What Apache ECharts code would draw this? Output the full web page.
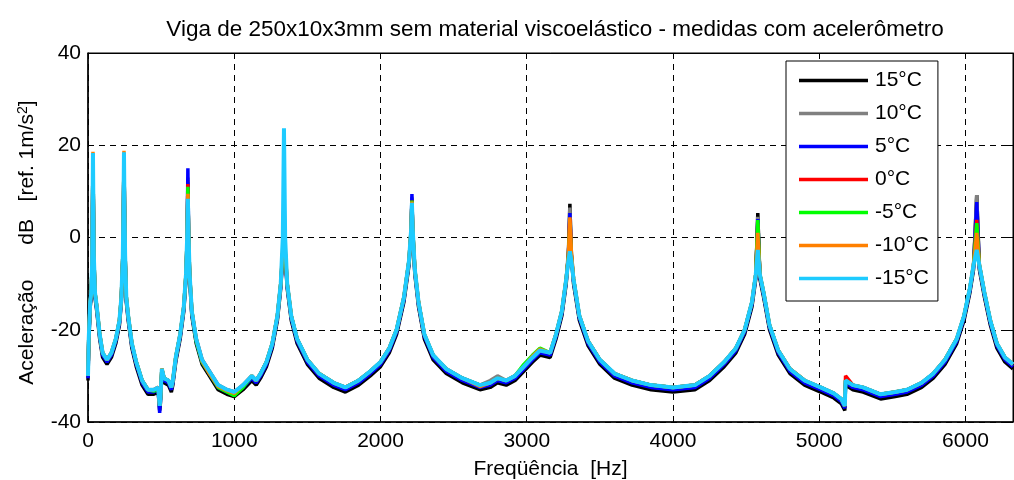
<!DOCTYPE html>
<html><head><meta charset="utf-8">
<script src="https://cdn.jsdelivr.net/npm/echarts@6/dist/echarts.min.js"></script>
<style>html,body{margin:0;padding:0;background:#fff}#c{width:1014px;height:480px}</style>
</head><body><div id="c"></div>
<script>
const freqHz = [0,5,15,22,28,32,34,36,40,48,60,
 80,100,130,160,190,215,228,238,243,246,249,254,262,
 275,300,330,370,410,450,480,490,495,505,520,550,570,580,600,
 630,655,670,678,683,688,695,710,
 740,780,830,890,950,1000,1060,1120,1150,1180,1220,1260,1295,1318,
 1332,1340,1348,1362,1390,1430,
 1500,1580,1680,1760,1850,1930,2000,2060,2110,2160,2195,
 2210,2215,2220,2235,2260,2300,
 2360,2450,2560,2680,2750,2800,2860,2920,2980,3040,3090,3160,3200,3240,3270,3285,
 3295,3305,3320,3360,3420,
 3500,3600,3720,3850,4000,4150,4250,4350,4430,4490,4540,4566,
 4580,4594,4620,4660,4720,
 4800,4900,5010,5100,5150,5175,5180,5230,5300,5420,5520,5600,5700,5780,5860,5940,5990,6030,6055,
 6077,6095,6130,6170,6215,6270,6325];

const db15 = [-31,-23,-15,-13,-7,9,17.8,9,-5,-13,-16,
 -22,-26,-27.5,-26,-23,-19,-14,-5,7,17.5,7,-5,-14,
 -18,-24,-28,-32,-34,-34,-33.5,-37.5,-36,-29.5,-31.5,-32,-33.5,-32,-27,
 -22,-16,-9,-1,12,-1,-9,-17,
 -23,-27.5,-30,-33,-34,-34.5,-33,-31,-32,-30.5,-28,-24,-18,-11,
 -4,3,-4,-11,-18,-23,
 -27.5,-30.5,-32.5,-33.5,-32,-30,-28,-25,-21,-14,-6,
 1,8.5,1,-8,-15,-22,
 -26.5,-29.5,-31.5,-33,-32.5,-31.5,-32,-31,-29,-27,-25.5,-26,-22,-17,-10,-4,
 7.3,-4,-10,-18,-23.5,
 -27.5,-30.5,-32,-33,-33.5,-33,-31,-28,-25,-21,-15,-9,
 5.3,-9,-13,-20,-25.5,
 -29.5,-32,-33.5,-34.8,-36,-37.5,-32,-33,-33.5,-35,-34.5,-34,-32.5,-30.5,-27.5,-23,-18,-12,-7,
 9.2,-7,-13,-19,-24,-27,-28.5];

const db10 = [-30,-22,-14,-12,-6,10,17.9,10,-4,-12,-15,
 -21,-25,-26.5,-25,-22,-18,-13,-4,8,17.8,8,-4,-13,
 -17,-23,-27,-31,-33,-33,-32.5,-36.5,-35,-28.5,-30.5,-31,-32.5,-31,-26,
 -21,-15,-8,0,13,0,-8,-16,
 -22,-26.5,-29,-32,-33,-33.5,-32,-30,-31,-29.5,-27,-23,-17,-10,
 -3,4.2,-3,-10,-17,-22,
 -26.5,-29.5,-31.5,-32.5,-31,-29,-27,-24,-20,-13,-5,
 2,8.8,2,-7,-14,-21,
 -25.5,-28.5,-30.5,-32,-31,-30,-31,-30,-28,-26,-24.5,-25,-21,-16,-9,-3,
 6.5,-3,-9,-17,-22.5,
 -26.5,-29.5,-31,-32,-32.5,-32,-30,-27,-24,-20,-14,-8,
 4.5,-8,-12,-19,-24.5,
 -28.5,-31,-32.5,-33.8,-35,-36.5,-31,-32,-32.5,-34,-33.5,-33,-31.5,-29.5,-26.5,-22,-17,-11,-6,
 9.2,-6,-12,-18,-23,-26,-27.5];

const db5 = [-30.5,-22.5,-14.5,-12.5,-6.5,9.5,18,9.5,-4.5,-12.5,-15.5,
 -21.5,-25.5,-27,-25.5,-22.5,-18.5,-13.5,-4.5,7.5,18,7.5,-4.5,-13.5,
 -17.5,-23.5,-27.5,-31.5,-33.5,-33.5,-33,-38,-35.5,-29,-31,-31.5,-33,-31.5,-26.5,
 -21.5,-15.5,-8.5,-0.5,15,-0.5,-8.5,-16.5,
 -22.5,-27,-29.5,-32.5,-33.5,-34,-32.5,-30.5,-31.5,-30,-27.5,-23.5,-17.5,-10.5,
 -3.5,2.5,-3.5,-10.5,-17.5,-22.5,
 -27,-30,-32,-33,-31.5,-29.5,-27.5,-24.5,-20.5,-13.5,-5.5,
 1.5,9.4,1.5,-7.5,-14.5,-21.5,
 -26,-29,-31,-32.5,-32,-31,-31.5,-30.5,-28.5,-26.5,-25,-25.5,-21.5,-16.5,-9.5,-4,
 5.3,-4,-9.5,-17.5,-23,
 -27,-30,-31.5,-32.5,-33,-32.5,-30.5,-27.5,-24.5,-20.5,-14.5,-8.5,
 4,-8.5,-12.5,-19.5,-25,
 -29,-31.5,-33,-34.3,-35.5,-37,-31.5,-32.5,-33,-34.5,-34,-33.5,-32,-30,-27,-22.5,-17.5,-11.5,-6.5,
 7.7,-6.5,-12.5,-18.5,-23.5,-26.5,-28];

const db0 = [-30,-22,-14,-12,-6,10,18,10,-4,-12,-15,
 -21,-25,-26.5,-25,-22,-18,-13,-4,8,18,8,-4,-13,
 -17,-23,-27,-31,-33,-33,-32.5,-36.5,-35,-28.5,-30.5,-31,-32.5,-31,-26,
 -21,-15,-8,0,11.6,0,-8,-16,
 -22,-26.5,-29,-32,-33,-33.5,-32,-30,-31,-29.5,-27,-23,-17,-10,
 -3,5,-3,-10,-17,-22,
 -26.5,-29.5,-31.5,-32.5,-31,-29,-27,-24,-20,-13,-5,
 2,8,2,-7,-14,-21,
 -25.5,-28.5,-30.5,-32,-31.5,-30.5,-31,-30,-28,-26,-24.5,-25,-21,-16,-9,-4,
 4,-4,-9,-17,-22.5,
 -26.5,-29.5,-31,-32,-32.5,-32,-30,-27,-24,-20,-14,-8,
 3,-8,-12,-19,-24.5,
 -28.5,-31,-32.5,-33.8,-35,-36.5,-30,-32,-32.5,-34,-33.5,-33,-31.5,-29.5,-26.5,-22,-17,-11,-6,
 3.8,-6,-12,-18,-23,-26,-27.5];

const dbM5 = [-30,-22,-14,-12,-6,10,18.1,10,-4,-12,-15,
 -21,-25,-26.5,-25,-22,-18,-13,-4,8,18.2,8,-4,-13,
 -17,-23,-27,-31,-33,-33.3,-32.8,-36.5,-35,-28.5,-30.5,-31,-32.5,-31,-26,
 -21,-15,-8,0,11,0,-8,-16,
 -22.5,-27,-29.5,-32.5,-33.5,-34.3,-32.5,-30,-31,-29.5,-27,-23,-17,-10,
 -3,7,-3,-10,-17,-22,
 -26.5,-29.5,-31.5,-32.5,-31,-29,-27,-24,-20,-13,-5,
 2,8,2,-7,-14,-21,
 -25.5,-28.5,-30.5,-32,-31.5,-30.5,-31,-30,-27.5,-25.5,-24,-25,-21,-16,-9,-4,
 3,-4,-9,-17,-22.5,
 -26.5,-29.5,-31,-32,-32.5,-32,-30,-27,-24,-20,-14,-8,
 3.8,-8,-12,-19,-24.5,
 -28.5,-31,-32.5,-33.8,-35,-36.5,-31,-32,-32.5,-34,-33.5,-33,-31.5,-29.5,-26.5,-22,-17,-11,-6,
 3.1,-6,-12,-18,-23,-26,-27.5];

const dbM10 = [-30,-22,-14,-12,-6,10,18.6,10,-4,-12,-15,
 -21,-25,-26.5,-25,-22,-18,-13,-4,8,18.8,8,-4,-13,
 -17,-23,-27,-31,-33,-33,-32.5,-36.5,-35,-28.5,-30.5,-31,-32.5,-31,-26,
 -21,-15,-8,0,9.5,0,-8,-16,
 -22,-26.8,-29.5,-32.3,-33.2,-33.8,-32,-30,-31,-29.5,-27,-23,-17,-10,
 -2,8.8,-2,-10,-17,-22,
 -26.5,-29.5,-31.5,-32.5,-31,-29,-27,-24,-20,-13,-5,
 2,7.8,2,-7,-14,-21,
 -25.5,-28.5,-30.5,-32.3,-31.5,-30.5,-31,-30,-28,-25.7,-24.2,-25,-21,-16,-9,-4,
 4.4,-3,-9,-17,-22.5,
 -26.5,-29.5,-31,-32,-32.5,-32,-30,-27,-24,-20,-14,-8,
 1,-8,-12,-19,-24.5,
 -28.5,-31,-32.5,-33.8,-35,-36.5,-31,-32,-32.5,-34,-33.5,-33,-31.5,-29.5,-26.5,-22,-17,-11,-6,
 1,-6,-12,-18,-23,-26,-27.5];

const dbM15 = [-30,-22,-14,-12,-6,10,18.3,10,-4,-12,-15,
 -21,-25,-26.5,-25,-22,-18,-13,-4,8,18.5,8,-4,-13,
 -17,-23,-27,-31,-33,-33,-32.5,-36.5,-35,-28.5,-30.5,-31,-32.5,-31,-26,
 -21,-15,-8,0,8.4,0,-8,-16,
 -22,-26.5,-29,-32,-33,-33.5,-32,-30,-31,-29.5,-27,-23,-17,-10,
 0,23.7,0,-10,-17,-22,
 -26.5,-29.5,-31.5,-32.5,-31,-29,-27,-24,-20,-13,-5,
 2,7.5,2,-7,-14,-21,
 -25.5,-28.5,-30.5,-32,-31.5,-30.5,-31,-30,-28,-26,-24.5,-25,-21,-16,-9,-5,
 -3,-5,-9,-17,-22.5,
 -26.5,-29.5,-31,-32,-32.5,-32,-30,-27,-24,-20,-14,-8,
 -2.7,-8,-12,-19,-24.5,
 -28.5,-31,-32.5,-33.8,-35,-36.5,-31,-32,-32.5,-34,-33.5,-33,-31.5,-29.5,-26.5,-22,-17,-11,-6,
 -2.7,-6,-12,-18,-23,-26,-27.5];

const seriesNames = ['15°C','10°C','5°C','0°C','-5°C','-10°C','-15°C'];
const seriesValues = [db15, db10, db5, db0, dbM5, dbM10, dbM15];
const seriesColors = ['#000000','#808080','#0000ff','#ff0000','#00ff00','#ff8000','#1ecbff'];
const seriesWidths = [3.5, 3.5, 3.5, 3.5, 3.5, 3.5, 4];

const FONT = 'Liberation Sans, Arial, Helvetica, sans-serif';
const chart = echarts.init(document.getElementById('c'), null, {renderer: 'canvas'});

const tickStyle = {show: true, inside: true, length: 6, lineStyle: {color: '#000'}};
const xTickLabel = v => (v % 1000 === 0 ? String(v) : '');
const yTickLabel = v => String(v);

chart.setOption({
  animation: false,
  backgroundColor: '#fff',
  title: {
    text: 'Viga de 250x10x3mm sem material viscoelástico - medidas com acelerômetro',
    left: 555, textAlign: 'center', top: 18, padding: 0,
    textStyle: {fontFamily: FONT, fontSize: 22.5, fontWeight: 'normal', color: '#000'}
  },
  grid: {left: 88, right: 1, top: 53, bottom: 58, show: true, borderColor: '#000', borderWidth: 1,
    containLabel: false, outerBoundsMode: 'none'},
  legend: {
    orient: 'vertical', left: 786, top: 61,
    padding: [9, 9, 12, 13], itemGap: 12, itemWidth: 69, itemHeight: 3.5,
    icon: 'rect',
    backgroundColor: '#fff', borderColor: '#000', borderWidth: 1, borderRadius: 0,
    data: seriesNames,
    textStyle: {fontFamily: FONT, fontSize: 21, color: '#000', padding: [0,0,0,2]}
  },
  xAxis: [{
    type: 'value', min: 0, max: 6325, interval: 1000,
    name: 'Freqüência  [Hz]', nameLocation: 'middle', nameGap: 37,
    nameTextStyle: {fontFamily: FONT, fontSize: 21, color: '#000'},
    axisLine: {show: true, onZero: false, lineStyle: {color: '#000', width: 1.5}},
    axisTick: tickStyle,
    axisLabel: {fontFamily: FONT, fontSize: 21, color: '#000', margin: 9, formatter: xTickLabel},
    splitLine: {show: true, lineStyle: {color: '#000', type: [6, 5], width: 1}}
  }, {
    type: 'value', min: 0, max: 6325, interval: 1000, position: 'top',
    axisLine: {show: true, onZero: false, lineStyle: {color: '#000', width: 1}},
    axisTick: tickStyle,
    axisLabel: {show: false}, splitLine: {show: false}
  }],
  yAxis: [{
    type: 'value', min: -40, max: 40, interval: 20,
    name: 'Aceleração      dB   [ref. 1m/s{sup|2}]', nameLocation: 'middle', nameGap: 50, nameRotate: 90,
    nameTextStyle: {fontFamily: FONT, fontSize: 21, color: '#000', padding: [0, 10, 0, 0],
      rich: {sup: {fontFamily: FONT, fontSize: 14, color: '#000', verticalAlign: 'top', padding: [0,0,8,0]}}},
    axisLine: {show: true, onZero: false, lineStyle: {color: '#000', width: 1.5}},
    axisTick: tickStyle,
    axisLabel: {fontFamily: FONT, fontSize: 21, color: '#000', margin: 7, formatter: yTickLabel},
    splitLine: {show: true, lineStyle: {color: '#000', type: [6, 5], width: 1}}
  }, {
    type: 'value', min: -40, max: 40, interval: 20, position: 'right',
    axisLine: {show: true, onZero: false, lineStyle: {color: '#000', width: 1}},
    axisTick: tickStyle,
    axisLabel: {show: false}, splitLine: {show: false}
  }],
  series: seriesNames.map((name, k) => ({
    name, type: 'line', xAxisIndex: 0, yAxisIndex: 0,
    symbol: 'none', showSymbol: false, clip: true,
    lineStyle: {color: seriesColors[k], width: seriesWidths[k]},
    itemStyle: {color: seriesColors[k]},
    data: freqHz.map((f, i) => [f, seriesValues[k][i]])
  }))
});
</script></body></html>
